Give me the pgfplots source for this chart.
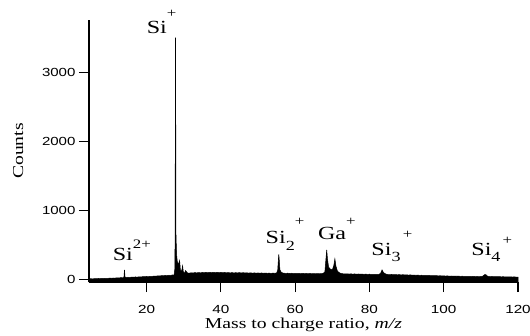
\documentclass[border=0pt]{standalone}
\usepackage{pgfplots}
\pgfplotsset{compat=1.18}
\usepackage{graphicx}
\usepackage{fontspec}
\setmainfont{Liberation Serif}
\newfontfamily\arialf{Liberation Sans}
\newcommand\tickfont{\arialf\fontsize{11.8}{12}\selectfont}
\newcommand\labfont{\fontsize{15.2}{16}\selectfont}
\newcommand\annfont{\fontsize{18.6}{19}\selectfont}
\newcommand\supf{\fontsize{13}{13}\selectfont}
\newcommand\subf{\fontsize{14}{14}\selectfont}
\newcommand\wide[1]{\scalebox{1.3}[1]{#1}}
\pgfplotstableread{
x y
4.5 -36
4.5 8
5.0 12
5.5 9
6.0 13
6.5 11
7.0 15
7.5 13
8.0 17
8.5 14
9.0 18
9.5 16
10.0 20
10.5 18
11.0 22
11.5 20
12.0 25
12.5 22
13.0 27
13.5 25
13.9 30
14.05 140
14.2 35
14.5 30
15.0 33
15.5 31
16.0 35
16.5 33
17.0 37
17.5 35
18.0 39
18.5 37
19.0 42
19.5 40
20.0 44
20.5 42
21.0 47
21.5 45
22.0 50
22.5 48
23.0 53
23.5 51
24.0 56
24.5 54
25.0 59
25.5 57
26.0 62
26.5 60
27.0 66
27.4 64
27.6 150
27.7 690
27.76 3500
27.82 3500
27.9 690
28.0 500
28.1 350
28.3 250
28.5 230
28.7 240
28.9 275
29.1 140
29.4 110
29.7 200
29.9 110
30.2 90
30.5 130
31.0 95
31.5 92
32.0 98
32.5 94
33.0 100
33.5 96
34.0 101
34.5 97
35.0 102
35.5 98
36.0 103
36.5 99
37.0 104
37.5 100
38.0 105
38.5 100
39.0 104
39.5 99
40.0 103
40.5 98
41.0 102
41.5 97
42.0 101
42.5 96
43.0 100
43.5 95
44.0 99
44.5 96
45.0 100
45.5 95
46.0 99
46.5 94
47.0 98
47.5 93
48.0 97
48.5 92
49.0 96
49.5 92
50.0 95
50.5 91
51.0 95
51.5 90
52.0 94
52.5 90
53.0 93
53.5 89
54.0 93
54.5 90
55.0 95
55.3 130
55.5 300
55.6 365
55.7 300
55.9 140
56.2 110
56.6 95
57.0 92
57.5 88
58.0 92
58.5 87
59.0 91
59.5 86
60.0 90
60.5 86
61.0 89
61.5 85
62.0 89
62.5 84
63.0 88
63.5 84
64.0 88
64.5 83
65.0 87
65.5 83
66.0 87
66.5 83
67.0 86
67.5 88
68.0 110
68.3 300
68.5 430
68.7 300
69.0 180
69.5 150
70.0 140
70.4 200
70.7 300
71.0 190
71.4 120
72.0 95
72.5 85
73.0 83
73.5 80
74.0 83
74.5 79
75.0 82
75.5 78
76.0 81
76.5 77
77.0 80
77.5 76
78.0 79
78.5 75
79.0 78
79.5 74
80.0 77
80.5 73
81.0 76
81.5 72
82.0 75
82.5 73
83.0 90
83.4 140
83.8 100
84.2 85
84.5 78
85.0 72
85.5 70
86.0 73
86.5 69
87.0 72
87.5 68
88.0 71
88.5 67
89.0 70
89.5 66
90.0 68
90.5 64
91.0 67
91.5 63
92.0 65
92.5 61
93.0 64
93.5 60
94.0 62
94.5 59
95.0 61
95.5 57
96.0 60
96.5 56
97.0 58
97.5 55
98.0 57
98.5 53
99.0 55
99.5 52
100.0 53
100.5 50
101.0 52
101.5 49
102.0 51
102.5 48
103.0 50
103.5 47
104.0 49
104.5 46
105.0 48
105.5 45
106.0 47
106.5 44
107.0 46
107.5 43
108.0 45
108.5 42
109.0 44
109.5 42
110.0 44
110.5 48
111.0 70
111.3 72
111.7 52
112.0 45
112.5 42
113.0 44
113.5 41
114.0 43
114.5 40
115.0 42
115.5 39
116.0 41
116.5 38
117.0 40
117.5 37
118.0 39
118.5 36
119.0 38
119.5 35
120.0 36
120.0 -36
}\spectrum
\begin{document}
\begin{tikzpicture}
\begin{axis}[
  scale only axis, width=429bp, height=262bp,
  at={(0,0)}, anchor=south west,
  xmin=4.5, xmax=120, ymin=-36, ymax=3760,
  axis lines=left, axis line style={-, line width=1.1bp},
  tick align=outside, major tick length=10bp,
  tick style={line width=1.1bp, black},
  xtick={20,40,...,120}, ytick={0,1000,2000,3000},
  minor tick num=0,
  tick label style={font=\tickfont},
  /pgf/number format/assume math mode=true,
  /pgf/number format/1000 sep={},
  scaled y ticks=false,
  xticklabel={\wide{\pgfmathprintnumber{\tick}}},
  yticklabel={\scalebox{1.28}[1]{\pgfmathprintnumber{\tick}}},
  xticklabel style={yshift=-10bp},
  xlabel={\wide{Mass to charge ratio, \textit{m/z}}},
  ylabel={\wide{Counts}},
  label style={font=\labfont},
  xlabel style={at={(axis description cs:0.5,-0.1775)}, anchor=base},
  ylabel style={at={(axis description cs:-0.1538,0.5)}, anchor=base},
  clip=false,
]
\addplot[fill=black, draw=black, line width=0.5bp] table[x=x, y=y] {\spectrum};
\node[anchor=base west, inner sep=0pt, font=\annfont] at (axis cs:20.0,3570)
  {\wide{Si}\raisebox{16bp}{\supf\wide{+}}};
\node[anchor=base west, inner sep=0pt, font=\annfont] at (axis cs:10.85,276)
  {\wide{Si}\raisebox{12bp}{\supf\wide{2+}}};
\node[anchor=base west, inner sep=0pt, font=\annfont] at (axis cs:52.03,518)
  {\wide{Si}\raisebox{-6.5bp}{\subf\wide{2}}\raisebox{18bp}{\supf\wide{+}}};
\node[anchor=base west, inner sep=0pt, font=\annfont] at (axis cs:66.1,576)
  {\wide{Ga}\raisebox{14bp}{\supf\wide{+}}};
\node[anchor=base west, inner sep=0pt, font=\annfont] at (axis cs:80.49,348)
  {\wide{Si}\raisebox{-6.5bp}{\subf\wide{3}}\raisebox{16.7bp}{\supf\,\wide{+}}};
\node[anchor=base west, inner sep=0pt, font=\annfont] at (axis cs:107.4,348)
  {\wide{Si}\raisebox{-6.5bp}{\subf\wide{4}}\raisebox{11bp}{\supf\,\wide{+}}};
\end{axis}
\pgfresetboundingbox
\path[use as bounding box] (-89bp,-54bp) rectangle (441bp,282bp);
\end{tikzpicture}
\end{document}
